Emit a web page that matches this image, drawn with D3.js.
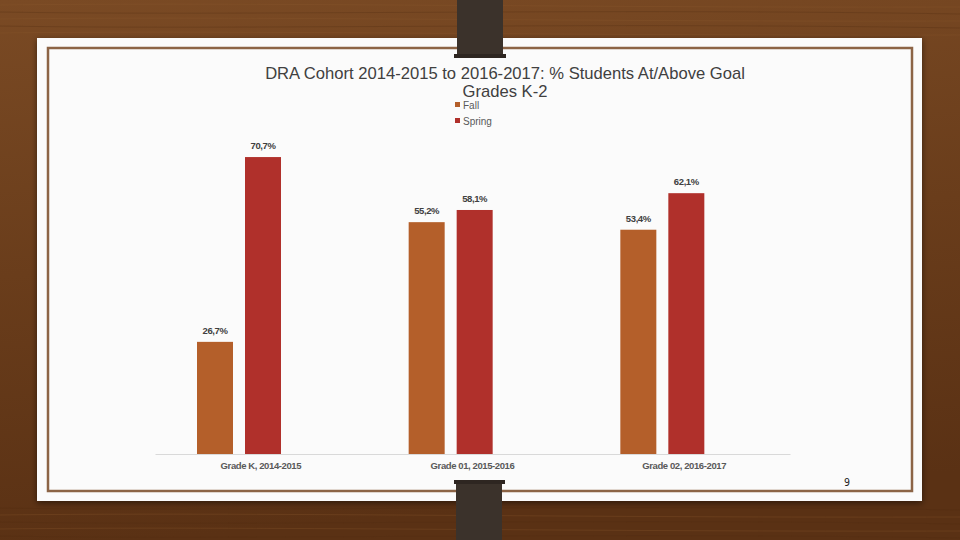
<!DOCTYPE html>
<html>
<head>
<meta charset="utf-8">
<script src="https://cdn.jsdelivr.net/npm/d3@7"></script>
<style>
  body { margin: 0; }
  svg { display: block; }
  .bar-label { font-family: "Liberation Sans Narrow", "Liberation Sans", Arial, sans-serif; font-size: 9.5px; font-weight: bold; fill: #404040; letter-spacing: -0.4px; }
  .cat-label { font-family: "Liberation Sans Narrow", "Liberation Sans", Arial, sans-serif; font-size: 9.5px; font-weight: bold; fill: #595959; letter-spacing: -0.4px; }
</style>
</head>
<body>
<svg id="slide" width="960" height="540"></svg>
<script>
var categories = ["Grade  K, 2014-2015", "Grade 01, 2015-2016", "Grade 02, 2016-2017"];
var series = ["Fall", "Spring"];
var fallValues = [26.7, 55.2, 53.4];
var springValues = [70.7, 58.1, 62.1];
var valueLabels = {
  Fall: ["26,7%", "55,2%", "53,4%"],
  Spring: ["70,7%", "58,1%", "62,1%"]
};
var colors = {Fall: "#b45f2a", Spring: "#b0302b"};

var svg = d3.select("#slide");

// wood background
var defs = svg.append("defs");
var wood = defs.append("linearGradient").attr("id", "wood")
    .attr("x1", 0).attr("y1", 0).attr("x2", 0.15).attr("y2", 1);
wood.append("stop").attr("offset", "0%").attr("stop-color", "#7a4a24");
wood.append("stop").attr("offset", "50%").attr("stop-color", "#6a3d1b");
wood.append("stop").attr("offset", "100%").attr("stop-color", "#5a3114");
svg.append("rect").attr("width", 960).attr("height", 540).attr("fill", "url(#wood)");

var grain = [5, 12, 19, 26, 33, 508, 515, 522, 529, 536];
grain.forEach(function(y, i) {
  svg.append("path")
      .attr("d", "M0," + y + " C240," + (y + (i % 2 ? 4 : -3)) + " 600," + (y + (i % 2 ? -4 : 3)) + " 960," + (y + 2))
      .attr("stroke", i % 2 ? "#4e2a10" : "#8a5a30")
      .attr("stroke-width", 1)
      .attr("fill", "none")
      .attr("opacity", 0.3);
});

// card
var shadow = defs.append("filter").attr("id", "shadow").attr("x", "-5%").attr("y", "-5%").attr("width", "110%").attr("height", "115%");
shadow.append("feDropShadow").attr("dx", 0).attr("dy", 2).attr("stdDeviation", 3).attr("flood-color", "#000").attr("flood-opacity", 0.5);
svg.append("rect").attr("x", 37).attr("y", 38).attr("width", 885).attr("height", 463)
    .attr("fill", "#fbfbfb").attr("filter", "url(#shadow)");
svg.append("rect").attr("x", 48).attr("y", 48).attr("width", 864).attr("height", 443)
    .attr("fill", "none").attr("stroke", "#8c6446").attr("stroke-width", 2.5);

// straps
svg.append("rect").attr("x", 457).attr("y", 0).attr("width", 46).attr("height", 57).attr("fill", "#3b322b");
svg.append("rect").attr("x", 454).attr("y", 54).attr("width", 52).attr("height", 4).attr("fill", "#2e2621");
svg.append("rect").attr("x", 456).attr("y", 481).attr("width", 46).attr("height", 59).attr("fill", "#3b322b");
svg.append("rect").attr("x", 454).attr("y", 480).attr("width", 51).attr("height", 4).attr("fill", "#2e2621");

// chart
var x0 = d3.scaleBand().domain(categories).range([155, 790]).padding(0);
var x1 = d3.scaleBand().domain(series.concat(["_empty"])).range([42, 174]).paddingInner(0.25).paddingOuter(0);
var y = d3.scaleLinear().domain([0, 80]).range([454, 118]);

var rows = categories.map(function(c, i) {
  return {category: c, values: [
    {key: "Fall", value: fallValues[i], label: valueLabels.Fall[i]},
    {key: "Spring", value: springValues[i], label: valueLabels.Spring[i]}
  ]};
});

var groups = svg.append("g").selectAll("g")
    .data(rows)
    .enter().append("g")
    .attr("transform", function(d) { return "translate(" + x0(d.category) + ",0)"; });

groups.selectAll("rect")
    .data(function(d) { return d.values; })
    .enter().append("rect")
    .attr("x", function(d) { return x1(d.key); })
    .attr("y", function(d) { return y(d.value); })
    .attr("width", x1.bandwidth())
    .attr("height", function(d) { return y(0) - y(d.value); })
    .attr("fill", function(d) { return colors[d.key]; });

groups.selectAll("text")
    .data(function(d) { return d.values; })
    .enter().append("text")
    .attr("class", "bar-label")
    .attr("x", function(d) { return x1(d.key) + x1.bandwidth() / 2; })
    .attr("y", function(d) { return y(d.value) - 8; })
    .attr("text-anchor", "middle")
    .text(function(d) { return d.label; });

var xAxis = svg.append("g")
    .attr("transform", "translate(0," + y(0) + ")")
    .call(d3.axisBottom(x0).tickSize(0).tickPadding(8));
xAxis.select(".domain").attr("stroke", "#d9d9d9").attr("stroke-width", 1);
xAxis.selectAll("text").attr("class", "cat-label").attr("fill", null).attr("font-family", null).attr("font-size", null);

// title
var title = svg.append("text")
    .attr("x", 505).attr("y", 79)
    .attr("text-anchor", "middle")
    .attr("font-family", "Liberation Sans, Arial, sans-serif")
    .attr("font-size", 16.6)
    .attr("fill", "#404040");
title.append("tspan").attr("x", 505).text("DRA Cohort 2014-2015 to 2016-2017: % Students At/Above Goal");
title.append("tspan").attr("x", 505).attr("dy", 18).text("Grades K-2");

// legend
var legend = svg.append("g").selectAll("g")
    .data(series)
    .enter().append("g")
    .attr("transform", function(d, i) { return "translate(455," + (105 + i * 16) + ")"; });
legend.append("rect").attr("y", -3).attr("width", 5).attr("height", 5)
    .attr("fill", function(d) { return colors[d]; });
legend.append("text").attr("x", 8).attr("y", 0).attr("dy", "0.35em")
    .attr("font-family", "Liberation Sans, Arial, sans-serif")
    .attr("font-size", 10).attr("fill", "#595959")
    .text(function(d) { return d; });

// slide number
svg.append("text").attr("x", 847).attr("y", 486).attr("text-anchor", "middle")
    .attr("font-family", "DejaVu Sans Mono, monospace").attr("font-size", 10).attr("fill", "#222")
    .text("9");
</script>
</body>
</html>
